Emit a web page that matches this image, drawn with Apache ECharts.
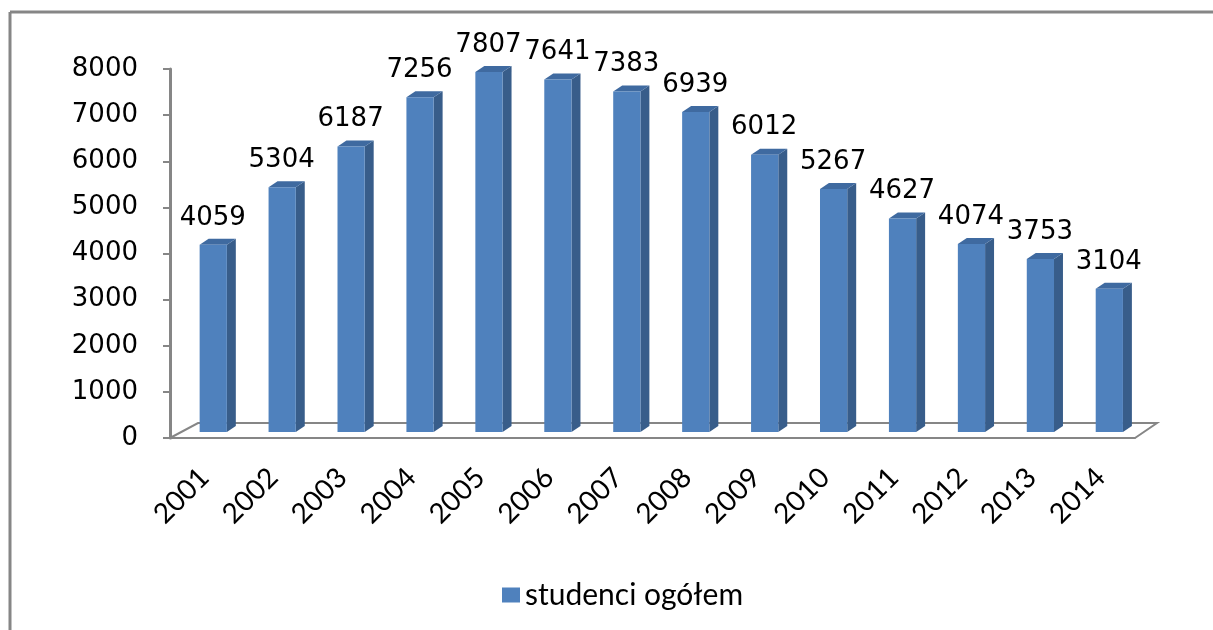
<!DOCTYPE html>
<html>
<head>
<meta charset="utf-8">
<script src="https://cdn.jsdelivr.net/npm/echarts@6/dist/echarts.min.js"></script>
<style>
html, body { margin: 0; padding: 0; background: #fff; }
#chart { width: 1213px; height: 630px; }
</style>
</head>
<body>
<div id="chart"></div>
<script>
// data
var years = ['2001', '2002', '2003', '2004', '2005', '2006', '2007', '2008', '2009', '2010', '2011', '2012', '2013', '2014'];
var students = [4059, 5304, 6187, 7256, 7807, 7641, 7383, 6939, 6012, 5267, 4627, 4074, 3753, 3104];
var seriesName = 'studenci ogółem';
var yMin = 0, yMax = 8000, yStep = 1000;

var gray = '#868686';
var numFont = 'DejaVu Sans';

var barData = students.map(function (v, i) { return [i, v]; });

// fake 3D column: front face, side face, top face, value on top
function renderBar(params, api) {
    var i = api.value(0), v = api.value(1);
    var base = api.coord([i, 0]);
    var top = api.coord([i, v]);
    var bw = api.size([1, 0])[0];
    var lift = 6;
    var x0 = base[0] - bw * 0.07;
    var x1 = x0 + bw * 0.395;
    var dx = bw * 0.13, dy = 6;
    var yb = base[1] - lift, yt = top[1] - lift;
    return {
        type: 'group',
        children: [
            { type: 'polygon', shape: { points: [[x1, yb], [x1 + dx, yb - dy], [x1 + dx, yt - dy], [x1, yt]] },
              style: { fill: '#385D8A' } },
            { type: 'polygon', shape: { points: [[x0, yt], [x1, yt], [x1 + dx, yt - dy], [x0 + dx, yt - dy]] },
              style: { fill: '#3F6AA0' } },
            { type: 'rect', shape: { x: x0, y: yt, width: x1 - x0, height: yb - yt },
              style: { fill: '#4F81BD' } },
            { type: 'text', x: base[0] + bw * 0.12, y: yt - dy - 8,
              style: { text: String(v), fill: '#000', font: '26px "DejaVu Sans"',
                       textAlign: 'center', textVerticalAlign: 'bottom' } }
        ]
    };
}

// floor outline behind the bars
function renderFloor(params, api) {
    var n = years.length;
    var bw = api.size([1, 0])[0];
    var a = api.coord([0, 0]), b = api.coord([n - 1, 0]);
    var left = a[0] - bw / 2, right = b[0] + bw / 2, y = a[1];
    return {
        type: 'polyline',
        shape: { points: [[left, y], [left + 28, y - 15], [right + 22, y - 15], [right, y]] },
        style: { stroke: gray, lineWidth: 2, fill: null }
    };
}

var myChart = echarts.init(document.getElementById('chart'));
myChart.setOption({
    animation: false,
    // chart frame: only top and left edges fall inside the picture
    graphic: [
        { type: 'line', z: -10, shape: { x1: 10, y1: 12, x2: 1213, y2: 12 },
          style: { stroke: gray, lineWidth: 3 } },
        { type: 'line', z: -10, shape: { x1: 10, y1: 12, x2: 10, y2: 630 },
          style: { stroke: gray, lineWidth: 3 } }
    ],
    grid: {
        left: 170, right: 78, top: 69, bottom: 192,
        containLabel: false, outerBoundsMode: 'none'
    },
    legend: {
        data: [{ name: seriesName, icon: 'rect' }],
        left: 497, top: 575,
        itemWidth: 18, itemHeight: 15, itemGap: 10,
        textStyle: { fontFamily: 'Lato', fontSize: 30, color: '#000' }
    },
    xAxis: {
        type: 'category',
        data: years,
        axisLine: { lineStyle: { color: gray, width: 2 } },
        axisTick: { length: 7, lineStyle: { color: gray, width: 2 } },
        axisLabel: { rotate: 45, margin: 35, fontFamily: 'Lato', fontSize: 28, color: '#000' }
    },
    yAxis: {
        type: 'value',
        min: yMin, max: yMax, interval: yStep,
        splitLine: { show: false },
        axisLine: { show: true, lineStyle: { color: gray, width: 3 } },
        axisTick: { show: true, length: 7, lineStyle: { color: gray, width: 2 } },
        axisLabel: {
            margin: 32, fontFamily: numFont, fontSize: 26, color: '#000',
            formatter: function (v) { return String(v); }
        }
    },
    series: [
        {
            name: 'floor',
            type: 'custom',
            renderItem: renderFloor,
            data: [[0, 0]],
            encode: { x: 0, y: 1 },
            silent: true,
            z: 1
        },
        {
            name: seriesName,
            type: 'custom',
            renderItem: renderBar,
            data: barData,
            encode: { x: 0, y: 1 },
            itemStyle: { color: '#4F81BD' },
            clip: false,
            z: 2
        }
    ]
});
</script>
</body>
</html>
